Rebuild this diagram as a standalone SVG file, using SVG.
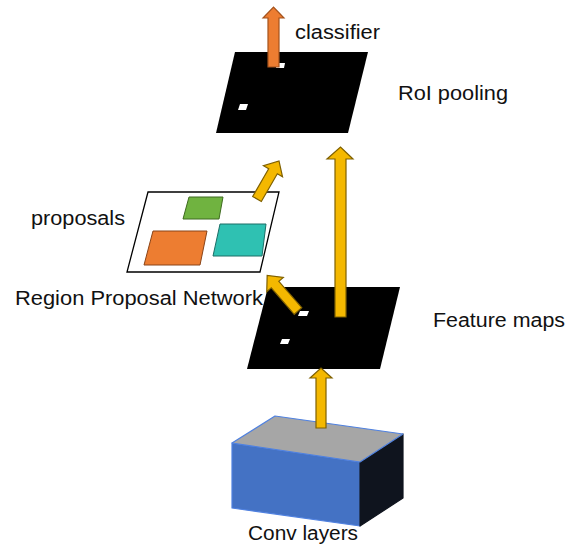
<svg xmlns="http://www.w3.org/2000/svg" width="576" height="548" viewBox="0 0 576 548">
  <style>
    .lbl { font-family: "Liberation Sans", Arial, sans-serif; font-size: 20px; fill: #111; }
    .map { fill: #000; }
    .dot { fill: #fff; }
    .arrow-y { fill: #F4B800; stroke: #7F6000; stroke-width: 1.2; stroke-linejoin: miter; }
    .arrow-o { fill: #ED7D31; stroke: #A4521C; stroke-width: 1.2; stroke-linejoin: miter; }
    .box { stroke-width: 1.2; stroke-linejoin: round; }
  </style>

  <!-- Conv layers block -->
  <g id="conv-layers">
    <polygon class="box" points="232,443 360,462 360,526 232,508" fill="#4472C4" stroke="#4F81E0"/>
    <polygon class="box" points="360,462 403,434 403,498 360,526" fill="#0F141E" stroke="#0F141E"/>
    <polygon class="box" points="232,443 275,416 403,434 360,462" fill="#A6A6A6" stroke="#4F81E0"/>
    <text class="lbl" x="248" y="540" textLength="110" lengthAdjust="spacingAndGlyphs">Conv layers</text>
  </g>

  <!-- Feature maps -->
  <g id="feature-maps">
    <polygon class="map" points="268,287 400,287 380,369 247,369"/>
    <polygon class="dot" points="300,311 309,311 307,316 298,316"/>
    <polygon class="dot" points="282,339 290,339 288,344 280,344"/>
    <text class="lbl" x="433" y="327" textLength="132" lengthAdjust="spacingAndGlyphs">Feature maps</text>
  </g>

  <!-- Region proposal network output -->
  <g id="proposals">
    <polygon points="148,192 279,192 260,272 127,272" fill="#fff" stroke="#000" stroke-width="1.3"/>
    <polygon points="189,197 223,197 219,219 183,219" fill="#70B340" stroke="#3F6B20" stroke-width="1"/>
    <polygon points="153,231 207,231 200,265 144,265" fill="#ED7D31" stroke="#8A4418" stroke-width="1"/>
    <polygon points="220,224 266,224 262,256 213,256" fill="#2FC1B2" stroke="#1C6E66" stroke-width="1"/>
    <text class="lbl" x="31" y="225" textLength="94" lengthAdjust="spacingAndGlyphs">proposals</text>
    <text class="lbl" x="15" y="305" textLength="248" lengthAdjust="spacingAndGlyphs">Region Proposal Network</text>
  </g>

  <!-- RoI pooling -->
  <g id="roi-pooling">
    <polygon class="map" points="235,52 368,52 348,133 216,133"/>
    <polygon class="dot" points="277,63 285,63 284,68 276,68"/>
    <polygon class="dot" points="240,104 248,104 246,110 238,110"/>
    <text class="lbl" x="398" y="100" textLength="110" lengthAdjust="spacingAndGlyphs">RoI pooling</text>
  </g>

  <!-- classifier label -->
  <g id="classifier">
    <text class="lbl" x="295" y="39" textLength="85" lengthAdjust="spacingAndGlyphs">classifier</text>
  </g>

  <!-- connectors -->
  <g id="connectors">
    <!-- conv -> feature maps -->
    <polygon class="arrow-y" points="316,428 316,378 310,378 321,368 332,378 326,378 326,428"/>
    <!-- feature maps -> RoI pooling -->
    <polygon class="arrow-y" points="335,317 335,159 327,159 340.5,147 353,159 346,159 346,317"/>
    <!-- feature maps -> proposals -->
    <polygon class="arrow-y" transform="translate(298,311) rotate(-41)" points="-5,0 -5,-35 -11,-35 0,-47 11,-35 5,-35 5,0"/>
    <!-- proposals -> RoI pooling -->
    <polygon class="arrow-y" transform="translate(257,199) rotate(30)" points="-5,0 -5,-32 -11,-32 0,-44 11,-32 5,-32 5,0"/>
    <!-- RoI pooling -> classifier -->
    <polygon class="arrow-o" points="268,67 268,18 263,18 273.5,7 284,18 279,18 279,67"/>
  </g>
</svg>
